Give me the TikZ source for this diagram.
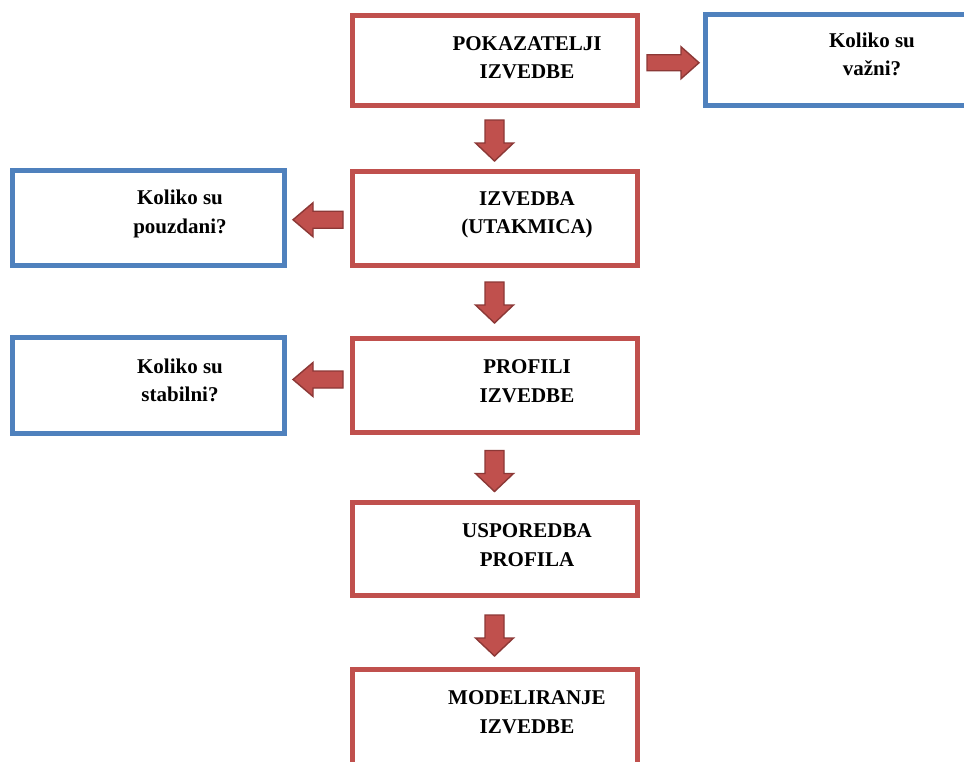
\documentclass[tikz,border=0pt]{standalone}
\usepackage{fontspec}
\setmainfont{Liberation Serif}
\usetikzlibrary{calc}
\definecolor{boxred}{HTML}{C0504D}
\definecolor{boxblue}{HTML}{4F81BD}
\definecolor{arrowline}{HTML}{8C3836}
\tikzset{
  redbox/.style={rectangle, draw=boxred, line width=5pt, minimum width=285pt, inner sep=0pt, outer sep=0pt},
  bluebox/.style={rectangle, draw=boxblue, line width=5pt, inner sep=0pt, outer sep=0pt},
  boxtext/.style={font=\bfseries\fontsize{21}{28.5}\selectfont, align=center, anchor=base, inner sep=0pt, outer sep=0pt},
  blockarrow/.style={fill=boxred, draw=arrowline, line width=1.4pt, line join=miter},
  pics/downarrow/.style={code={\draw[blockarrow] (-9.5,-20.5) -- (9.5,-20.5) -- (9.5,2.5) -- (19,2.5) -- (0,20.5) -- (-19,2.5) -- (-9.5,2.5) -- cycle;}},
  pics/leftarrow/.style={code={\draw[blockarrow] (25,-8.5) -- (-5,-8.5) -- (-5,-17) -- (-25,0) -- (-5,17) -- (-5,8.5) -- (25,8.5) -- cycle;}},
  pics/rightarrow/.style={code={\draw[blockarrow] (-26,-8) -- (8,-8) -- (8,-16) -- (26,0) -- (8,16) -- (8,8) -- (-26,8) -- cycle;}},
}
\begin{document}
\begin{tikzpicture}[x=1pt,y=-1pt]
\useasboundingbox (0,0) rectangle (964,761);
\clip (0,0) rectangle (964,761);
\fill[white] (0,0) rectangle (964,761);
% main boxes
\node[redbox, minimum height=90pt] (b1) at (495,60.5) {};
\node[redbox, minimum height=94pt] (b2) at (495,218.5) {};
\node[redbox, minimum height=94pt] (b3) at (495,385.5) {};
\node[redbox, minimum height=93pt] (b4) at (495,549) {};
\node[redbox, minimum height=100pt] (b5) at (495,719.5) {};
% question boxes
\node[bluebox, minimum width=299.5pt, minimum height=91pt] (qa) at (855.25,60) {};
\node[bluebox, minimum width=272pt, minimum height=95pt] (qb) at (148.5,218) {};
\node[bluebox, minimum width=272pt, minimum height=96pt] (qc) at (148.5,385.5) {};
% texts (base anchor = baseline of the last line)
\node[boxtext] (t1) at ($(b1.north)+(32,63)$) {POKAZATELJI\\IZVEDBE};
\node[boxtext] (t2) at ($(b2.north)+(32,62)$) {IZVEDBA\\(UTAKMICA)};
\node[boxtext] (t3) at ($(b3.north)+(32,63.5)$) {PROFILI\\IZVEDBE};
\node[boxtext] (t4) at ($(b4.north)+(32,63.5)$) {USPOREDBA\\PROFILA};
\node[boxtext] (t5) at ($(b5.north)+(32,63.5)$) {MODELIRANJE\\IZVEDBE};
\node[boxtext] (ta) at (872,75.5) {Koliko su\\važni?};
\node[boxtext] (tb) at ($(qb.north)+(31.5,62.5)$) {Koliko su\\pouzdani?};
\node[boxtext] (tc) at ($(qc.north)+(31.5,64)$) {Koliko su\\stabilni?};
% arrows
\pic at ($($(b1.south)!0.5!(b2.north)$)+(-0.5,2)$) {downarrow};
\pic at ($($(b2.south)!0.5!(b3.north)$)+(-0.5,0.5)$) {downarrow};
\pic at ($($(b3.south)!0.5!(b4.north)$)+(-0.5,3.5)$) {downarrow};
\pic at ($($(b4.south)!0.5!(b5.north)$)+(-0.5,3)$) {downarrow};
\pic at ($($(b1.east)!0.5!(qa.west)$)+(1.5,2.5)$) {rightarrow};
\pic at ($($(qb.east)!0.5!(b2.west)$)+(-0.5,1.5)$) {leftarrow};
\pic at ($($(qc.east)!0.5!(b3.west)$)+(-0.5,-6)$) {leftarrow};
\end{tikzpicture}
\end{document}
